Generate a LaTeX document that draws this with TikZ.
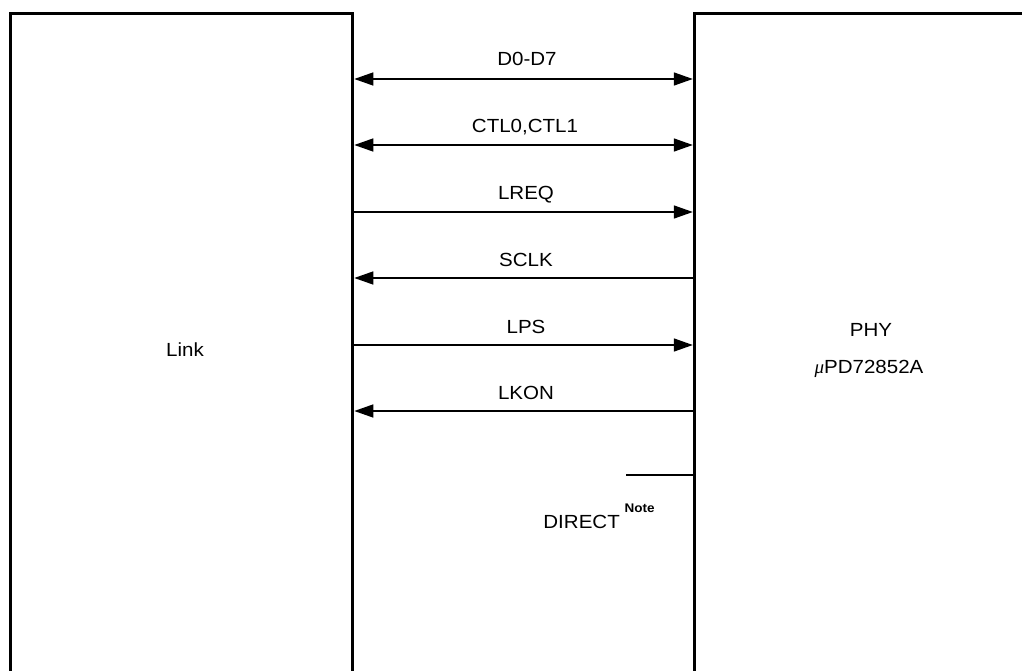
\documentclass[tikz,border=0pt]{standalone}
\usepackage{fontspec}
\setmainfont{Liberation Sans}[FakeStretch=1.08]
\newfontfamily\muserif{Liberation Serif}
\usetikzlibrary{arrows.meta}
\begin{document}
\begin{tikzpicture}[x=1pt,y=-1pt,
  boxline/.style={line width=3pt},
  sig/.style={line width=1.5pt},
  tipR/.style={-{Triangle[length=19pt,width=13pt]}},
  tipL/.style={{Triangle[length=19pt,width=13pt]}-},
  tipB/.style={{Triangle[length=19pt,width=13pt]}-{Triangle[length=19pt,width=13pt]}},
  lbl/.style={font=\fontsize{19}{22}\selectfont, inner sep=0pt, anchor=base},
  notelbl/.style={font=\fontsize{12.5}{14}\selectfont\bfseries, inner sep=0pt, anchor=base west}]
\useasboundingbox (0,0) rectangle (1022,671);
% boxes
\draw[boxline] (10.8,680) -- (10.8,13.2) -- (352.8,13.2) -- (352.8,680);
\draw[boxline] (694.3,680) -- (694.3,13.2) -- (1030,13.2);
% edge coordinates
\foreach \n/\y in {1/79,2/145,3/212,4/278,5/345,6/411}{
  \coordinate (L\n) at (354.3,\y);
  \coordinate (R\n) at (692.8,\y);
}
\coordinate (dirR) at (692.8,475);
\coordinate (dirL) at (626,475);
% signals
\draw[sig,tipB] (L1) -- (R1);
\draw[sig,tipB] (L2) -- (R2);
\draw[sig,tipR] (L3) -- (R3);
\draw[sig,tipL] (L4) -- (R4);
\draw[sig,tipR] (L5) -- (R5);
\draw[sig,tipL] (L6) -- (R6);
\draw[sig] (dirL) -- (dirR);
% labels
\node[lbl] (t1) at (527,66) {D0-D7};
\node[lbl] (t2) at (525,133) {CTL0,CTL1};
\node[lbl] (t3) at (526,200) {LREQ};
\node[lbl] (t4) at (526,266) {SCLK};
\node[lbl] (t5) at (526,333) {LPS};
\node[lbl] (t6) at (526,399) {LKON};
\node[lbl] (link) at (185,356) {Link};
\node[lbl] (phy) at (871,336) {PHY};
\node[lbl] (pd) at (869,373) {{\muserif\itshape μ}PD72852A};
\node[lbl, anchor=base east] (dir) at (620,528) {DIRECT};
\node[notelbl] (note) at (624.5,512) {Note};
\end{tikzpicture}
\end{document}
